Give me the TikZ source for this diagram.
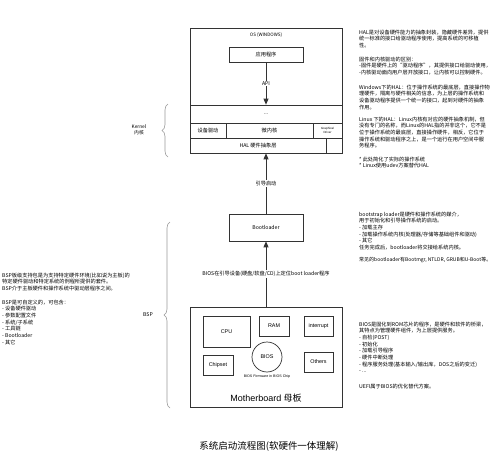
\documentclass[tikz,border=0pt]{standalone}
\usepackage{fontspec}
\setmainfont{Noto Sans CJK SC}
\newfontfamily\arialfont{Liberation Sans}
\usetikzlibrary{arrows.meta,decorations.pathreplacing}
\definecolor{edge}{HTML}{333333}
\definecolor{bracegray}{HTML}{9A9A9A}
\newcommand{\setfs}[2]{\fontsize{#1}{#2}\selectfont}

\begin{document}
\begin{tikzpicture}[x=1pt,y=-1pt,
  box/.style={draw=edge,line width=0.7pt,fill=white,inner sep=0pt,font=\setfs{5.2}{6}},
  part/.style={box,font=\arialfont\setfs{5.4}{6}},
  lbl/.style={inner sep=1pt,font=\setfs{5.2}{6}},
  note/.style={inner sep=0pt,anchor=north west,align=left,font=\setfs{5.2}{6.7}},
  link/.style={draw=edge,line width=0.8pt,-{Triangle[length=6pt,width=5pt]}},
  kbrace/.style={draw=bracegray,line width=0.6pt,decorate,decoration={brace,amplitude=6pt}}]
\useasboundingbox[fill=white] (0,0) rectangle (499,474);

% OS
\node[box,minimum width=152,minimum height=125] (os) at (266,90.5) {};
\node[lbl,font=\setfs{4.6}{5}] (ostitle) at (266,35) {OS (WINDOWS)};
\node[box,minimum width=74,minimum height=15] (app) at (266,54.5) {应用程序};
\node[box,minimum width=152,minimum height=18] (dots) at (266,114) {...};
\node[box,minimum width=36,minimum height=15] (drv) at (208,130.5) {设备驱动};
\node[box,minimum width=87,minimum height=15] (micro) at (269.5,130.5) {微内核};
\node[box,minimum width=29,minimum height=15,align=center,font=\arialfont\setfs{3}{3.4}] (gfx) at (327.5,130.5) {Graphical\\Driver};
\node[box,minimum width=136,minimum height=15] (hal) at (258,145.5) {HAL 硬件抽象层};
\draw[link] (app) -- (app.south |- dots.north) node[lbl,fill=white,midway] {API};

\draw[kbrace] (168,157) -- (168,104);
\node[lbl,align=center,font=\setfs{4.8}{6}] (kernel) at (139,130) {Kernel\\内核};

% Bootloader
\node[box,minimum width=74,minimum height=27] (boot) at (266,227.5) {Bootloader};
\draw[link] (boot.north) -- (boot.north |- os.south) node[lbl,fill=white,midway] {引导启动};

% Motherboard
\node[box,minimum width=152,minimum height=100] (mb) at (266,357) {};
\draw[link] (mb.north) -- (boot.south) node[lbl,fill=white,midway] {BIOS在引导设备(硬盘/软盘/CD)上定位boot loader程序};
\node[part,minimum width=47,minimum height=31] (cpu) at (226.5,331.5) {CPU};
\node[part,minimum width=30,minimum height=20] (ram) at (274,326) {RAM};
\node[part,minimum width=29,minimum height=20] (intr) at (318.5,326) {interrupt};
\node[part,circle,minimum size=30] (bios) at (267,357) {BIOS};
\node[part,minimum width=30,minimum height=20] (chip) at (218,365) {Chipset};
\node[part,minimum width=29,minimum height=20] (others) at (318.5,362) {Others};
\node[lbl,font=\arialfont\setfs{3.6}{4}] (biosnote) at (267,377) {BIOS Firmware in BIOS Chip};
\node[lbl,font=\setfs{9}{10}] (mbname) at (266,398) {{\arialfont Motherboard} 母板};

\draw[kbrace] (170,408) -- (170,222);
\node[lbl] (bsp) at (148,315) {BSP};

% notes
\node[note] (halnote) at (359,29.5) {HAL是对设备硬件能力的抽象封装，隐藏硬件差异，提供\\统一标准的接口给驱动程序使用，提高系统的可移植\\性。};
\node[note] (fwnote) at (359,56.5) {固件和内核驱动的区别：\\-固件是硬件上的“驱动程序”，其提供接口给驱动使用，\\-内核驱动面向用户层开放接口，让内核可以控制硬件。};
\node[note] (winnote) at (359,84.5) {Windows下的HAL：位于操作系统的最底层，直接操作物\\理硬件，隔离与硬件相关的信息，为上层的操作系统和\\设备驱动程序提供一个统一的接口，起到对硬件的抽象\\作用。};
\node[note] (linuxnote) at (359,116.5) {Linux 下的HAL：Linux内核有对应的硬件抽象机制，但\\没有专门的名称，而Linux的HAL指的并非这个，它不是\\位于操作系统的最底层，直接操作硬件，相反，它位于\\操作系统和驱动程序之上，是一个运行在用户空间中服\\务程序。};
\node[note] (starnote) at (359,156.5) {* 此处简化了实际的操作系统\\* Linux使用udev方案替代HAL};
\node[note] (bootnote) at (359,211.5) {bootstrap loader是硬件和操作系统的媒介，\\用于初始化和引导操作系统的启动。\\- 加载主存\\- 加载操作系统内核(处理器/存储等基础组件和驱动)\\- 其它\\任务完成后，bootloader将交接给系统内核。};
\node[note,font=\setfs{5}{6.7}] (loadernote) at (359,257.5) {常见的bootloader有Bootmgr, NTLDR, GRUB和U-Boot等。};
\node[note] (biosinfo) at (359,321.5) {BIOS是固化到ROM芯片的程序，是硬件和软件的桥梁，\\其特点为管理硬件组件，为上层提供服务。\\- 自检(POST)\\- 初始化\\- 加载引导程序\\- 硬件中断处理\\- 程序服务处理(基本输入/输出库，DOS之后的变迁)\\- ...};
\node[note] (uefinote) at (359,383.5) {UEFI属于BIOS的优化替代方案。};
\node[note] (bspinfo) at (2,272.5) {BSP板级支持包是为支持特定硬件环境(比如说为主板)的\\特定硬件驱动和特定系统的例程所提供的套件。\\BSP介于主板硬件和操作系统中驱动层程序之间。};
\node[note] (bsplist) at (2,299.5) {BSP是可自定义的，可包含：\\- 设备硬件驱动\\- 参数配置文件\\- 系统/子系统\\- 工具链\\- Bootloader\\- 其它};

\node[font=\setfs{9.5}{11}] (caption) at (269,446) {系统启动流程图(软硬件一体理解)};
\end{tikzpicture}
\end{document}
